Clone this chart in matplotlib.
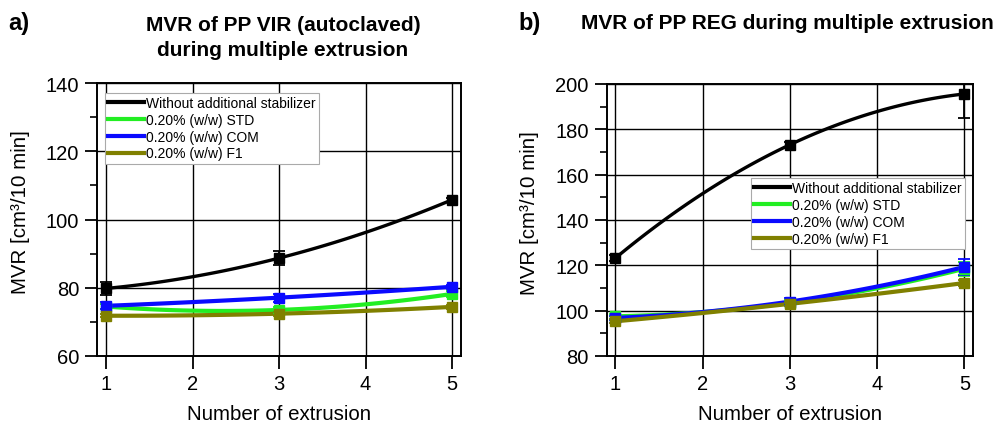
import numpy as np
import matplotlib
matplotlib.use("Agg")
import matplotlib.pyplot as plt
from matplotlib.ticker import MultipleLocator

plt.rcParams['font.family'] = ['Liberation Sans', 'DejaVu Sans']

# extrusion cycles measured
extrusions = [1, 3, 5]
series_labels = ["Without additional stabilizer", "0.20% (w/w) STD",
                 "0.20% (w/w) COM", "0.20% (w/w) F1"]
series_colors = ["#000000", "#22ee22", "#0a0aff", "#808000"]

# a) PP VIR (autoclaved)
vir_none = [79.8, 88.7, 105.8]
vir_none_err = [1.8, 2.0, 0.6]
vir_std = [74.5, 73.5, 78.2]
vir_std_err = [0.6, 0.8, 0.8]
vir_com = [74.7, 77.1, 80.3]
vir_com_err = [1.0, 1.2, 0.6]
vir_f1 = [71.8, 72.4, 74.4]
vir_f1_err = [0.5, 0.6, 0.6]

# b) PP REG
reg_none = [123.2, 173.2, 195.6]
reg_none_err = [1.5, 1.2, 10.5]
reg_std = [97.5, 103.5, 118.5]
reg_std_err = [1.0, 1.0, 3.0]
reg_com = [96.8, 104.0, 119.3]
reg_com_err = [1.0, 1.5, 3.5]
reg_f1 = [95.3, 103.0, 112.2]
reg_f1_err = [0.8, 0.8, 1.2]


def draw_panel(ax, values, errors, ylim, ystep, legend_anchor):
    xs = np.linspace(1, 5, 100)
    for vals, errs, col, lab in zip(values, errors, series_colors, series_labels):
        # smooth spline-like curve through the three measured points
        coef = np.polyfit(extrusions, vals, 2)
        lw = 2.4 if col == "#000000" else 3.0
        ax.plot(xs, np.polyval(coef, xs), color=col, lw=lw, label=lab, zorder=3)
        ax.errorbar(extrusions, vals, yerr=errs, fmt='s', color=col, ms=7.5,
                    ecolor=col, elinewidth=1.3, capsize=4, capthick=1.3, zorder=4)
    ax.set_xlim(0.9, 5.1)
    ax.set_ylim(*ylim)
    ax.xaxis.set_major_locator(MultipleLocator(1))
    ax.yaxis.set_major_locator(MultipleLocator(ystep))
    ax.yaxis.set_minor_locator(MultipleLocator(ystep / 2))
    ax.grid(True, which='major', color='black', lw=1.0, zorder=0)
    ax.tick_params(which='major', direction='out', length=9, width=1.3,
                   labelsize=14.5, pad=4)
    ax.tick_params(which='minor', direction='out', length=5, width=1.2)
    for sp in ax.spines.values():
        sp.set_linewidth(1.4)
    ax.set_xlabel("Number of extrusion", fontsize=14.8)
    ax.set_ylabel("MVR [cm³/10 min]", fontsize=14.8)
    ax.xaxis.set_label_coords(0.5, -0.21)
    ax.xaxis.label.set_va('center')
    ax.yaxis.set_label_coords(-0.212, 0.53)
    ax.yaxis.label.set_va('center')
    leg = ax.legend(loc='upper left', bbox_to_anchor=legend_anchor, fontsize=10,
                    frameon=True, fancybox=False, framealpha=1, edgecolor='#aaaaaa',
                    handlelength=2.6, handletextpad=0.1, borderpad=0.25,
                    labelspacing=0.2, borderaxespad=0)
    leg.get_frame().set_linewidth(0.8)
    for line in leg.get_lines():
        line.set_linewidth(3)


fig = plt.figure(figsize=(9.93, 4.27), dpi=100)
ax1 = fig.add_axes([0.098, 0.164, 0.366, 0.639])
ax2 = fig.add_axes([0.611, 0.164, 0.369, 0.637])

draw_panel(ax1, [vir_none, vir_std, vir_com, vir_f1],
           [vir_none_err, vir_std_err, vir_com_err, vir_f1_err],
           (60, 140), 20, (0.02, 0.965))
draw_panel(ax2, [reg_none, reg_std, reg_com, reg_f1],
           [reg_none_err, reg_std_err, reg_com_err, reg_f1_err],
           (80, 200), 20, (0.393, 0.655))

fig.text(0.285, 0.91, "MVR of PP VIR (autoclaved)\nduring multiple extrusion",
         ha='center', va='center', fontsize=15, fontweight='bold', linespacing=1.4)
fig.text(0.793, 0.945, "MVR of PP REG during multiple extrusion",
         ha='center', va='center', fontsize=15, fontweight='bold')
fig.text(0.008, 0.945, "a)", ha='left', va='center', fontsize=17, fontweight='bold')
fig.text(0.522, 0.945, "b)", ha='left', va='center', fontsize=17, fontweight='bold')

fig.savefig("out.png", dpi=100)
